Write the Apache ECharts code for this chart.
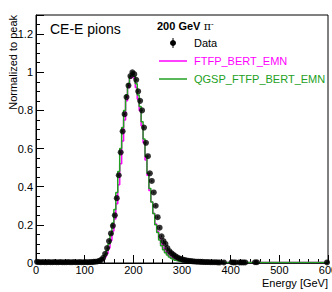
<!DOCTYPE html>
<html><head><meta charset="utf-8">
<script src="https://cdn.jsdelivr.net/npm/echarts@6/dist/echarts.min.js"></script>
<style>html,body{margin:0;padding:0;background:#fff}#c{width:332px;height:292px}</style>
</head><body><div id="c"></div>
<script>
// bin centres (GeV), 4 GeV bins
const energies = [2,6,10,14,18,22,26,30,34,38,42,46,50,54,58,62,66,70,74,78,82,86,90,94,98,102,106,110,114,118,
122,126,130,134,138,142,146,150,154,158,162,166,170,174,178,182,186,190,194,198,202,206,210,214,218,222,226,230,234,238,
242,246,250,254,258,262,266,270,274,278,282,286,290,294,298,302,306,310,314,318,322,326,330,334,338,342,346,350,354,358,
362,366,370,374,378];
const dataValues = [0.006,0.005,0.004,0.005,0.004,0.004,0.005,0.004,0.004,0.005,0.004,0.004,0.005,0.004,0.004,0.004,0.005,0.004,0.004,0.005,0.004,0.004,0.005,0.004,0.004,0.005,0.004,0.005,0.005,0.006,
0.007,0.008,0.011,0.016,0.027,0.048,0.078,0.115,0.155,0.195,0.25,0.34,0.46,0.58,0.69,0.78,0.87,0.93,0.98,1.0,
0.99,0.96,0.90,0.85,0.80,0.71,0.63,0.56,0.47,0.43,0.37,0.30,0.24,0.185,0.14,0.115,0.10,0.078,0.062,0.052,
0.044,0.036,0.030,0.025,0.021,0.018,0.015,0.013,0.011,0.010,0.009,0.008,0.007,0.007,0.006,0.006,0.005,0.005,0.005,0.004,
0.004,0.004,0.004,0.003,0.003];
const dataErr = 0.005;
const sparseEnergies = [386,402,406,410,418,422,426,430,450,454,598];
const sparseValues = [0.003,0.004,0.003,0.003,0.003,0.003,0.003,0.003,0.004,0.004,0.003];
const sparseErr = 0.01;
const qgspValues = [0.008,0.006,0.005,0.004,0.004,0.004,0.003,0.004,0.003,0.003,0.004,0.003,0.003,0.003,0.004,0.003,0.003,0.003,0.003,0.004,0.003,0.003,0.003,0.003,0.003,0.003,0.004,0.004,0.004,0.005,
0.006,0.008,0.011,0.017,0.027,0.043,0.066,0.10,0.15,0.21,0.28,0.37,0.48,0.60,0.71,0.80,0.88,0.94,0.98,1.0,
0.98,0.94,0.88,0.82,0.74,0.65,0.56,0.47,0.39,0.32,0.26,0.20,0.16,0.12,0.09,0.07,0.054,0.042,0.032,0.025,
0.019,0.015,0.012,0.009,0.007,0.006,0.005,0.004,0.004,0.003,0.003,0.003,0.003,0.002,0.002,0.002,0.002,0.002,0.002,0.002,
0.002,0.002,0.002,0.002,0.002];
const ftfpValues = [0.007,0.005,0.004,0.004,0.003,0.004,0.003,0.003,0.004,0.003,0.003,0.003,0.004,0.003,0.003,0.003,0.003,0.003,0.004,0.003,0.003,0.003,0.003,0.003,0.003,0.004,0.003,0.003,0.004,0.004,
0.005,0.006,0.008,0.012,0.019,0.031,0.050,0.078,0.118,0.168,0.23,0.31,0.41,0.52,0.64,0.75,0.85,0.92,0.97,1.0,
0.97,0.92,0.86,0.80,0.72,0.63,0.54,0.46,0.38,0.32,0.26,0.205,0.165,0.13,0.10,0.078,0.060,0.047,0.037,0.029,
0.022,0.017,0.013,0.010,0.008,0.006,0.005,0.004,0.004,0.003,0.003,0.003,0.003,0.002,0.002,0.002,0.002,0.002,0.002,0.002,
0.002,0.002,0.002,0.002,0.002];
const mcTailEnergies = [420,500,600];
const qgspTail = [0.002,0.002,0.002];
const ftfpTail = [0.002,0.002,0.002];
const xTicks = [0,100,200,300,400,500,600];
const yTicks = [0,0.2,0.4,0.6,0.8,1,1.2];

const GREEN = '#22a022', MAGENTA = '#ff00ff';
const FONT = 'Liberation Sans';

const pts = (xs, ys) => xs.map((x, i) => [x, ys[i]]);
const dataPts = pts(energies, dataValues).concat(pts(sparseEnergies, sparseValues));
const errPts = pts(energies, dataValues).map(p => [p[0], p[1], dataErr])
  .concat(pts(sparseEnergies, sparseValues).map(p => [p[0], p[1], sparseErr]));
const qgspPts = pts(energies, qgspValues).concat(pts(mcTailEnergies, qgspTail));
const ftfpPts = pts(energies, ftfpValues).concat(pts(mcTailEnergies, ftfpTail));

const chart = echarts.init(document.getElementById('c'), null, {renderer: 'svg'});
chart.setOption({
  animation: false,
  grid: {left: 36, right: 4, top: 15, bottom: 29, show: true, borderColor: '#000', borderWidth: 1,
    containLabel: false, outerBoundsMode: 'none'},
  xAxis: {
    type: 'value', min: xTicks[0], max: xTicks[xTicks.length-1], interval: 100,
    axisLine: {lineStyle: {color: '#000', width: 1}},
    axisTick: {inside: true, length: 8, lineStyle: {color: '#000'}},
    minorTick: {show: true, splitNumber: 5, length: 4, lineStyle: {color: '#000'}},
    splitLine: {show: false},
    axisLabel: {color: '#000', fontFamily: FONT, fontSize: 11, margin: 1, hideOverlap: false}
  },
  yAxis: {
    type: 'value', min: 0, max: 1.3, interval: 0.2,
    axisLine: {show: true, lineStyle: {color: '#000', width: 1}},
    axisTick: {show: true, inside: true, length: 8, lineStyle: {color: '#000'}},
    minorTick: {show: true, splitNumber: 4, length: 4, lineStyle: {color: '#000'}},
    splitLine: {show: false},
    axisLabel: {color: '#000', fontFamily: FONT, fontSize: 11, margin: 3, showMaxLabel: false,
      formatter: v => yTicks.some(t => Math.abs(t - v) < 1e-9) ? String(+v.toFixed(2)) : ''}
  },
  graphic: [
    {type: 'text', left: 50, top: 22, style: {text: 'CE-E pions', fontFamily: FONT, fontSize: 14, fill: '#000'}},
    {type: 'text', left: 157, top: 19, style: {
      text: '{b|200 GeV} {p|π}{s|-}', fontFamily: FONT,
      rich: {b: {fontWeight: 'bold', fontSize: 11, fontFamily: FONT, fill: '#000'},
             p: {fontSize: 11, fontFamily: 'DejaVu Serif', fill: '#000'},
             s: {fontSize: 8, fontFamily: FONT, fill: '#000', verticalAlign: 'top', padding: [0,0,6,0]}}}},
    {type: 'line', shape: {x1: 173, y1: 38, x2: 173, y2: 48}, style: {stroke: '#000', lineWidth: 1}},
    {type: 'circle', shape: {cx: 173, cy: 43, r: 3}, style: {fill: '#000'}},
    {type: 'text', left: 194, top: 37, style: {text: 'Data', fontFamily: FONT, fontSize: 11, fill: '#000'}},
    {type: 'line', shape: {x1: 159, y1: 61, x2: 187, y2: 61}, style: {stroke: MAGENTA, lineWidth: 1.5}},
    {type: 'text', left: 194, top: 55, style: {text: 'FTFP_BERT_EMN', fontFamily: FONT, fontSize: 11, fill: MAGENTA}},
    {type: 'line', shape: {x1: 159, y1: 79, x2: 187, y2: 79}, style: {stroke: GREEN, lineWidth: 1.5}},
    {type: 'text', left: 194, top: 73, style: {text: 'QGSP_FTFP_BERT_EMN', fontFamily: FONT, fontSize: 11, fill: GREEN}},
    {type: 'text', right: 4, top: 277, style: {text: 'Energy [GeV]', fontFamily: FONT, fontSize: 11, fill: '#000'}},
    {type: 'text', left: 7, top: 15, rotation: Math.PI / 2, originX: 0, originY: 0,
      style: {text: 'Normalized to peak', fontFamily: FONT, fontSize: 11, fill: '#000'}}
  ],
  series: [
    {name: 'FTFP_BERT_EMN', type: 'line', step: 'middle', data: ftfpPts, symbol: 'none',
      lineStyle: {color: MAGENTA, width: 1.5}, z: 2},
    {name: 'QGSP_FTFP_BERT_EMN', type: 'line', step: 'middle', data: qgspPts, symbol: 'none',
      lineStyle: {color: GREEN, width: 1.5}, z: 3},
    {name: 'Data errors', type: 'custom', data: errPts, z: 4,
      renderItem: (params, api) => {
        const a = api.coord([api.value(0), api.value(1) - api.value(2)]);
        const b = api.coord([api.value(0), api.value(1) + api.value(2)]);
        return {type: 'line', shape: {x1: a[0], y1: a[1], x2: b[0], y2: b[1]}, style: {stroke: '#000', lineWidth: 1}};
      }},
    {name: 'Data', type: 'scatter', data: dataPts, symbol: 'circle', symbolSize: 6,
      itemStyle: {color: '#000'}, z: 5}
  ]
});
</script></body></html>
